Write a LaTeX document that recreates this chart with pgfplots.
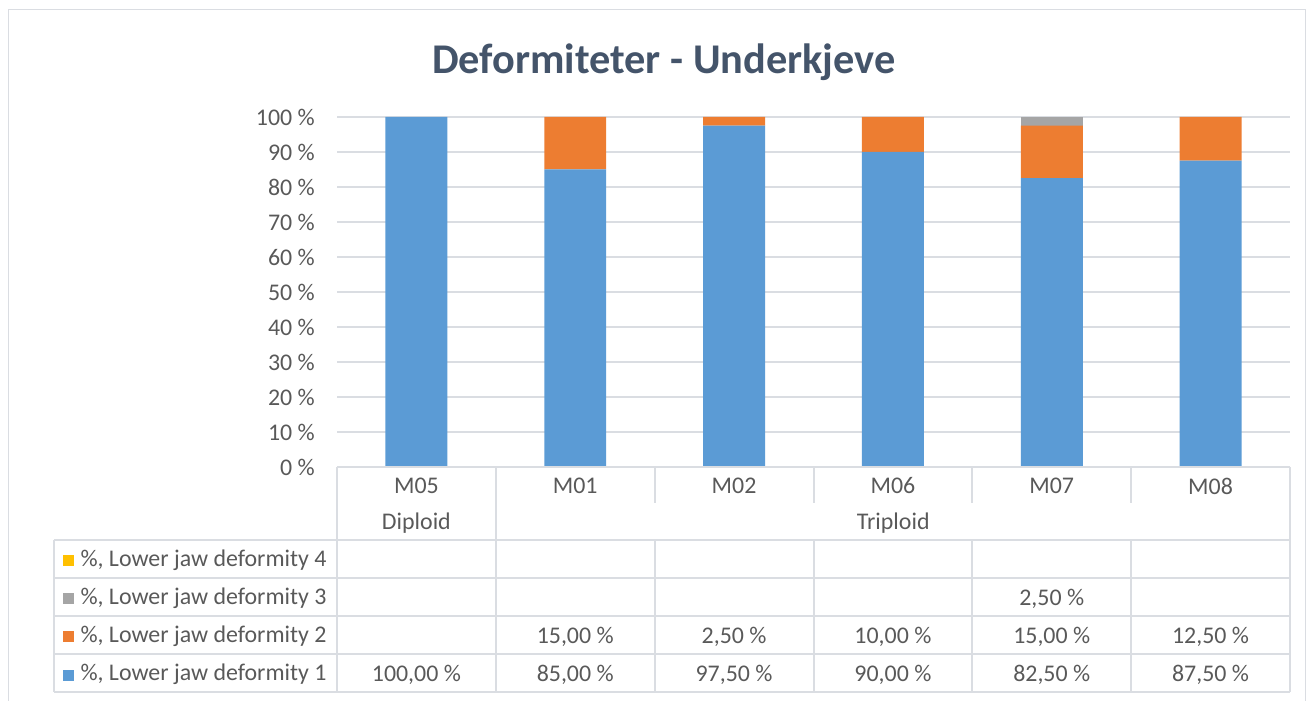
\documentclass[border=0pt]{standalone}
\usepackage{pgfplots}
\pgfplotsset{compat=1.18}
\usepackage{fontspec}
\setmainfont{Carlito}
\definecolor{cA}{HTML}{5B9BD5}
\definecolor{cB}{HTML}{ED7D31}
\definecolor{cC}{HTML}{A5A5A5}
\definecolor{cD}{HTML}{FFC000}
\definecolor{gridc}{HTML}{DADDE2}
\definecolor{textc}{HTML}{595959}
\definecolor{titlec}{HTML}{44546A}
\begin{document}
\begin{tikzpicture}
\begin{scope}[x=1bp,y=1bp]
\useasboundingbox (0,0) rectangle (1309,700);
\draw[color=gridc, line width=1bp] (8,-5) rectangle (1305,690);
\node[font=\fontsize{42.5}{50}\selectfont\bfseries, text=titlec] at (664,638) {Deformiteter - Underkjeve};
\end{scope}
\begin{axis}[at={(337bp,233bp)}, anchor=south west, scale only axis,
  width=953bp, height=350bp,
  xmin=-0.5, xmax=5.5, ymin=0, ymax=100,
  ytick={0,10,...,100}, xtick=\empty,
  ymajorgrids, grid style={color=gridc, line width=1.5bp},
  axis line style={draw=none}, major tick length=0pt,
  yticklabel={\pgfmathprintnumber{\tick}~\%},
  yticklabel style={font=\fontsize{24}{28}\selectfont, text=textc, inner sep=0pt, xshift=-22bp},
  /pgf/number format/assume math mode=true,
  ybar stacked, bar width=0.39,
  clip=false]
\addplot[fill=cA, draw=none] coordinates {(0,100) (1,85) (2,97.5) (3,90) (4,82.5) (5,87.5)};
\addplot[fill=cB, draw=none] coordinates {(0,0) (1,15) (2,2.5) (3,10) (4,15) (5,12.5)};
\addplot[fill=cC, draw=none] coordinates {(0,0) (1,0) (2,0) (3,0) (4,2.5) (5,0)};
\addplot[fill=cD, draw=none] coordinates {(0,0) (1,0) (2,0) (3,0) (4,0) (5,0)};
\end{axis}
\begin{scope}[x=1bp,y=1bp, line width=1.5bp, color=gridc]
\draw (337,233) -- (1290,233);
\draw (337,233) -- (337,160);
\draw (1290,233) -- (1290,8);
\draw (54,160) -- (1290,160);
\draw (54,122) -- (1290,122);
\draw (54,84) -- (1290,84);
\draw (54,46) -- (1290,46);
\draw (54,8) -- (1290,8);
\draw (54,160) -- (54,8);
\foreach \xx in {496,655,814,972,1131} { \draw (\xx,233) -- (\xx,197); }
\draw (496,197) -- (496,160);
\foreach \xx in {337,496,655,814,972,1131} { \draw (\xx,160) -- (\xx,8); }
\end{scope}
\begin{scope}[x=1bp,y=1bp, every node/.style={font=\fontsize{24}{28}\selectfont, text=textc}]
\pgfkeys{/pgf/number format/.cd, assume math mode=true, fixed, fixed zerofill, precision=2, use comma}
\foreach \lab [count=\i from 0] in {M05,M01,M02,M06,M07,M08} {
  \node at (416.4+158.83*\i, 214) {\lab};
}
\node at (416.4,177) {Diploid};
\node at (893.3,177) {Triploid};
\fill[cD] (63,133.5) rectangle (74,144.5);
\node[anchor=west] at (77,139.5) {\%, Lower jaw deformity 4};
\fill[cC] (63,95.5) rectangle (74,106.5);
\node[anchor=west] at (77,101.5) {\%, Lower jaw deformity 3};
\fill[cB] (63,57.5) rectangle (74,68.5);
\node[anchor=west] at (77,63.5) {\%, Lower jaw deformity 2};
\fill[cA] (63,19.5) rectangle (74,30.5);
\node[anchor=west] at (77,25.5) {\%, Lower jaw deformity 1};
\foreach \v [count=\i from 0] in {100,85,97.5,90,82.5,87.5} {
  \node at (416.4+158.83*\i, 25.5) {\pgfmathprintnumber{\v}~\%};
}
\foreach \v [count=\i from 1] in {15,2.5,10,15,12.5} {
  \node at (416.4+158.83*\i, 63.5) {\pgfmathprintnumber{\v}~\%};
}
\node at (416.4+158.83*4, 101.5) {\pgfmathprintnumber{2.5}~\%};
\end{scope}
\end{tikzpicture}
\end{document}
